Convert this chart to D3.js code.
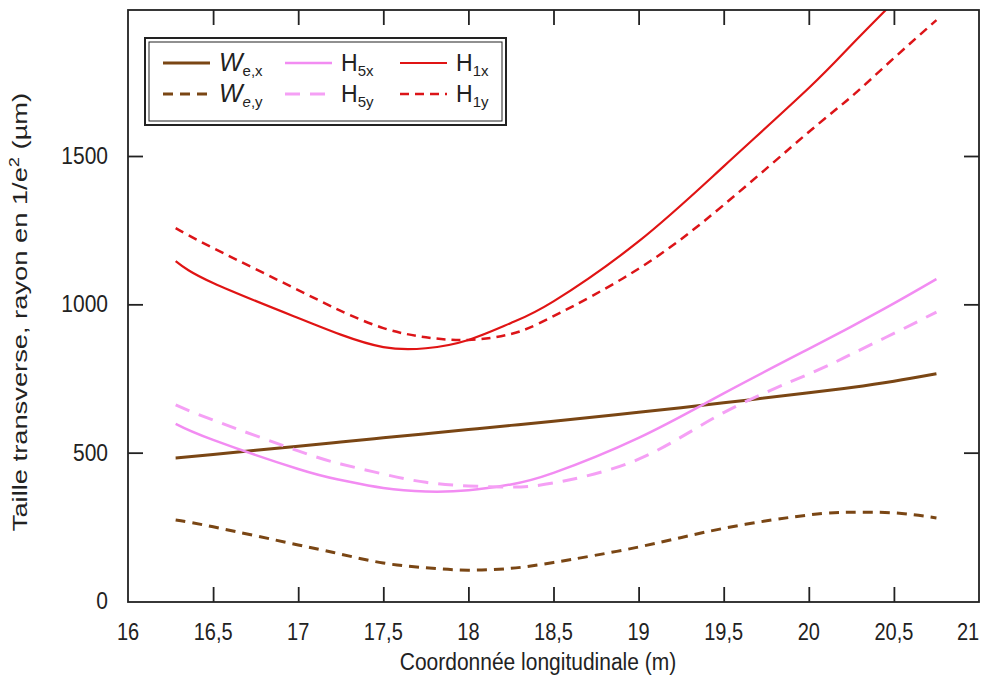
<!DOCTYPE html>
<html><head><meta charset="utf-8">
<script src="https://cdn.jsdelivr.net/npm/d3@7"></script>
<style>body{margin:0;background:#fff}svg{font-family:"Liberation Sans",Arial,sans-serif}</style>
</head><body><svg id="c" width="986" height="678"></svg>
<script>
const xTicks = [16,16.5,17,17.5,18,18.5,19,19.5,20,20.5,21];
const xTickLabels = ["16","16,5","17","17,5","18","18,5","19","19,5","20","20,5","21"];
const yTicks = [0,500,1000,1500];
const yTickLabels = ["0","500","1000","1500"];

const xs = [16.28,16.5,17,17.25,17.5,17.75,18,18.25,18.5,19,19.5,20,20.25,20.5,20.75];
const weX = [482,494,522,536,550,564,578,592,606,636,668,702,720,741,766];
const weY = [273,250,189,158,128,112,104,110,130,182,245,290,299,297,280];
const h5X = [597,543,445,408,381,369,373,393,432,550,700,850,925,1003,1085];
const h5Y = [661,610,506,462,428,400,388,384,398,478,635,765,832,902,974];
const h1X = [1146,1072,954,898,856,852,880,937,1010,1212,1465,1729,1874,2020,2170];
const h1Y = [1257,1190,1048,978,920,889,880,900,960,1120,1335,1581,1700,1830,1958];

const series = [
  {name:"weX", vals:weX, color:"#7a4614", w:3, dash:null},
  {name:"weY", vals:weY, color:"#7a4614", w:3, dash:"10,7"},
  {name:"h5X", vals:h5X, color:"#f28cf2", w:2.5, dash:null},
  {name:"h5Y", vals:h5Y, color:"#f5a0f5", w:3, dash:"15,10"},
  {name:"h1X", vals:h1X, color:"#e01414", w:2.2, dash:null},
  {name:"h1Y", vals:h1Y, color:"#dc1418", w:2.5, dash:"9,6"}
];

const L=128,R=979,T=10,B=602;
const x = d3.scaleLinear().domain([16,21]).range([L,R]);
const y = d3.scaleLinear().domain([0,1500]).range([601,156]);
const svg = d3.select("#c");

svg.append("clipPath").attr("id","clip").append("rect").attr("x",L).attr("y",T).attr("width",R-L).attr("height",B-T);

const line = d3.line().curve(d3.curveNatural);
const g = svg.append("g").attr("clip-path","url(#clip)");
series.forEach(s=>{
  g.append("path").attr("d", line(xs.map((xv,i)=>[x(xv), y(s.vals[i])])))
   .attr("fill","none").attr("stroke",s.color).attr("stroke-width",s.w)
   .attr("stroke-dasharray",s.dash);
});

// frame
svg.append("rect").attr("x",L).attr("y",T).attr("width",R-L).attr("height",B-T)
  .attr("fill","none").attr("stroke","#222").attr("stroke-width",1.8);

// axes with inward ticks
const tl=15;
const gx = svg.append("g").attr("transform",`translate(0,${B})`).call(d3.axisBottom(x).tickValues(xTicks.slice(1,-1)).tickSizeInner(-tl).tickSizeOuter(0).tickFormat(""));
const gxt = svg.append("g").attr("transform",`translate(0,${T})`).call(d3.axisTop(x).tickValues(xTicks.slice(1,-1)).tickSizeInner(-tl).tickSizeOuter(0).tickFormat(""));
const gyl = svg.append("g").attr("transform",`translate(${L},0)`).call(d3.axisLeft(y).tickValues(yTicks.slice(1)).tickSizeInner(-tl).tickSizeOuter(0).tickFormat(""));
const gyr = svg.append("g").attr("transform",`translate(${R},0)`).call(d3.axisRight(y).tickValues(yTicks.slice(1)).tickSizeInner(-tl).tickSizeOuter(0).tickFormat(""));
[gx,gxt,gyl,gyr].forEach(a=>{a.select(".domain").remove(); a.selectAll("line").attr("stroke","#222").attr("stroke-width",1.8);});

// tick labels
svg.append("g").selectAll("text").data(xTicks).join("text")
  .attr("transform",(d,i)=>`translate(${i===xTicks.length-1?968:x(d)},640) scale(1,1.2)`)
  .attr("text-anchor","middle")
  .attr("font-size",20).attr("fill","#222").text((d,i)=>xTickLabels[i]);
svg.append("g").selectAll("text").data(yTicks).join("text")
  .attr("transform",d=>`translate(108,${y(d)+8}) scale(1,1.15)`).attr("text-anchor","end")
  .attr("font-size",21).attr("fill","#222").text((d,i)=>yTickLabels[i]);

// axis titles
svg.append("text").attr("transform","translate(538,670) scale(1,1.15)").attr("text-anchor","middle")
  .attr("font-size",21).attr("fill","#222").text("Coordonnée longitudinale (m)");
const yt = svg.append("text").attr("transform","translate(27,312) rotate(-90) scale(1.3,1)")
  .attr("text-anchor","middle").attr("font-size",21).attr("fill","#222");
yt.append("tspan").text("Taille transverse, rayon en 1/e");
yt.append("tspan").attr("dy",-8).attr("font-size",14).text("2");
yt.append("tspan").attr("dy",8).text(" (µm)");

// legend
const lg = svg.append("g");
lg.append("rect").attr("x",145).attr("y",38).attr("width",361).attr("height",87).attr("fill","#fff").attr("stroke","#222").attr("stroke-width",2);
lg.append("rect").attr("x",149).attr("y",42).attr("width",353).attr("height",79).attr("fill","none").attr("stroke","#222").attr("stroke-width",1);
const legItems = [
  {s:0,col:0,row:0,main:"W",sub:"e,x",italic:true},
  {s:1,col:0,row:1,main:"W",sub:"e,y",italic:true},
  {s:2,col:1,row:0,main:"H",sub:"5x",italic:false},
  {s:3,col:1,row:1,main:"H",sub:"5y",italic:false},
  {s:4,col:2,row:0,main:"H",sub:"1x",italic:false},
  {s:5,col:2,row:1,main:"H",sub:"1y",italic:false}
];
const colX=[163,285,400], rowY=[63,94];
legItems.forEach(it=>{
  const s=series[it.s], x0=colX[it.col], yy=rowY[it.row];
  lg.append("line").attr("x1",x0).attr("x2",x0+47).attr("y1",yy).attr("y2",yy)
    .attr("stroke",s.color).attr("stroke-width",s.w).attr("stroke-dasharray",s.dash);
  const t = lg.append("text").attr("x",x0+56).attr("y",yy+8).attr("fill","#222");
  if(it.italic){
    t.append("tspan").attr("font-size",25).attr("font-style","italic").text(it.main);
    t.append("tspan").attr("font-size",15).attr("dy",5).attr("font-style",it.row?"italic":"normal").text("e");
    t.append("tspan").attr("font-size",15).text(it.sub.slice(1));
  } else {
    t.append("tspan").attr("font-size",23).text(it.main);
    t.append("tspan").attr("font-size",15).attr("dy",5).text(it.sub);
  }
});
</script></body></html>
